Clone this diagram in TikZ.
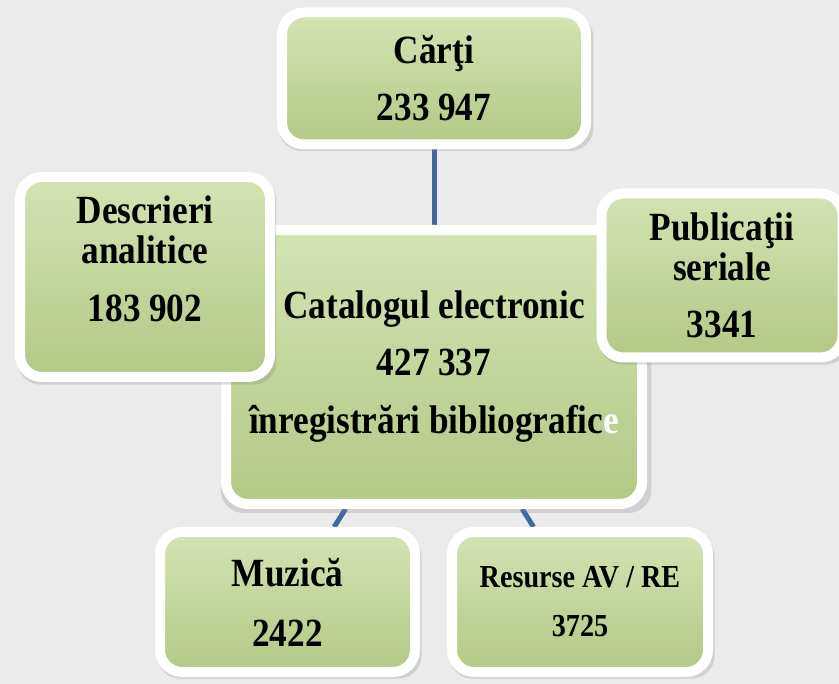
\documentclass[tikz,border=0pt]{standalone}
\usepackage{fontspec}
\setmainfont{Liberation Serif}[FakeStretch=0.88]
\usetikzlibrary{shadows,positioning}

\definecolor{canvas}{HTML}{EBEBEB}
\definecolor{leaf}{HTML}{C3D69B}
\definecolor{leaftop}{HTML}{D4E3B3}
\definecolor{leafbot}{HTML}{B4C886}
\definecolor{linkblue}{HTML}{4169A0}

\pgfdeclarelayer{back}
\pgfsetlayers{back,main}

\begin{document}
\begin{tikzpicture}[x=1pt,y=-1pt,
   box/.style={rectangle,draw=white,line width=10pt,rounded corners=22pt,
      top color=leaftop,bottom color=leafbot,middle color=leaf,
      drop shadow={opacity=.25,shadow xshift=2pt,shadow yshift=-4pt,shadow scale=1.035},
      align=center,inner sep=0pt,font=\bfseries\fontsize{40}{41}\selectfont},
   small/.style={font=\bfseries\fontsize{32}{34}\selectfont},
   link/.style={line width=5pt,draw=linkblue}]
   \useasboundingbox (0,0) rectangle (839,684);

   \node[box,minimum width=416pt,minimum height=274pt] (centre) at (434,367)
        {Catalogul electronic\\[16pt]427 337\\[17pt]înregistrări bibliografic\textcolor{white}{e}};
   \node[box,minimum width=250pt,minimum height=200pt,text depth=36pt] (descr) at (145,277)
        {Descrieri\\[-1pt]analitice\\[17pt]183 902};
   \node[box,minimum width=241pt,minimum height=164pt] (serial) at (722,275.5)
        {Publicaţii\\[-1pt]seriale\\[16pt]3341};
   \node[box,minimum width=304pt,minimum height=132pt] (carti) at (434,78.5)
        {Cărţi\\[16pt]233 947};
   \node[box,minimum width=255pt,minimum height=140pt] (muzica) at (287.5,602)
        {Muzică\\[19pt]2422};
   \node[box,small,minimum width=256pt,minimum height=140pt] (resurse) at (580,602)
        {Resurse AV / RE\\[15pt]3725};

   \begin{pgfonlayer}{back}
      \fill[canvas] (0,0) rectangle (839,684);
      \draw[link] (carti) -- (centre);
      \draw[link] (centre) -- (muzica);
      \draw[link] (centre) -- (resurse);
   \end{pgfonlayer}
\end{tikzpicture}
\end{document}
